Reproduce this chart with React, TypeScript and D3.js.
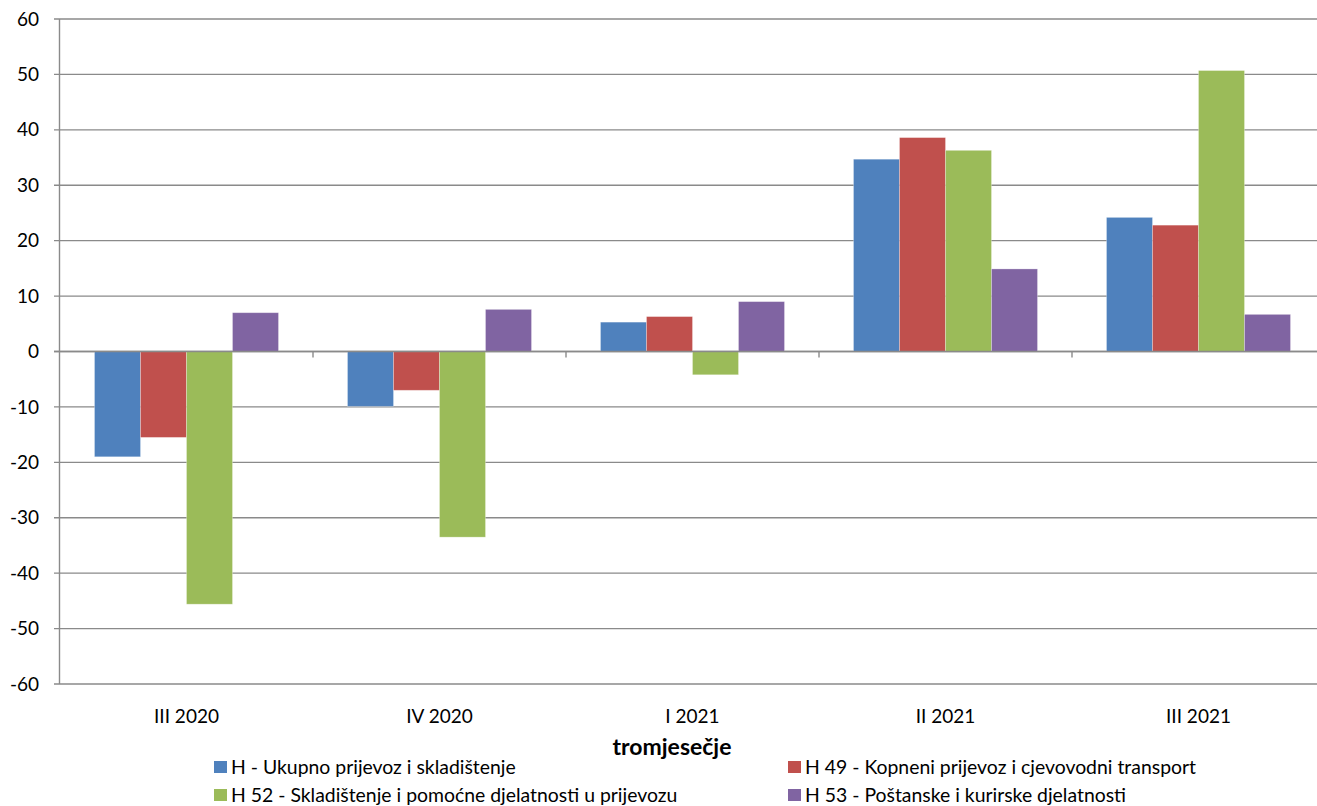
import React, { useEffect, useRef } from 'react'
import * as d3 from 'd3'

const categories = ['III 2020', 'IV 2020', 'I 2021', 'II 2021', 'III 2021']
const seriesNames = [
  'H - Ukupno prijevoz i skladištenje',
  'H 49 - Kopneni prijevoz i cjevovodni transport',
  'H 52 - Skladištenje i pomoćne djelatnosti u prijevozu',
  'H 53 - Poštanske i kurirske djelatnosti',
]
const seriesColors = ['#4F81BD', '#C0504D', '#9BBB59', '#8064A2']
const hUkupno = [-19.0, -9.9, 5.3, 34.7, 24.2]
const h49 = [-15.5, -7.0, 6.3, 38.6, 22.8]
const h52 = [-45.6, -33.5, -4.2, 36.3, 50.7]
const h53 = [7.0, 7.6, 9.0, 14.9, 6.7]
const yTicks = [-60, -50, -40, -30, -20, -10, 0, 10, 20, 30, 40, 50, 60]
const axisTitle = 'tromjesečje'

const W = 1317
const H = 806
const FONT = 'Lato, "Open Sans", sans-serif'

export default function App() {
  const ref = useRef<SVGSVGElement | null>(null)

  useEffect(() => {
    if (!ref.current) return
    const svg = d3.select(ref.current)
    svg.selectAll('*').remove()

    const left = 60
    const right = 1325
    const top = 19
    const bottom = 684
    const values = [hUkupno, h49, h52, h53]

    const x = d3.scaleBand<string>().domain(categories).range([left, right]).padding(0)
    // Excel-like gap width of 150%: 0.75 bar width on each side
    const inner = d3
      .scaleBand<number>()
      .domain(d3.range(values.length))
      .range([0, x.bandwidth()])
      .paddingInner(0)
      .paddingOuter(0.75)
    const y = d3.scaleLinear().domain([-60, 60]).range([bottom, top])

    // gridlines
    svg
      .append('g')
      .selectAll('line')
      .data(yTicks)
      .join('line')
      .attr('x1', left - 6)
      .attr('x2', W)
      .attr('y1', (d) => y(d))
      .attr('y2', (d) => y(d))
      .attr('stroke', '#8a8a8a')
      .attr('stroke-width', 1.4)

    // y axis line
    svg
      .append('line')
      .attr('x1', left - 0.5)
      .attr('x2', left - 0.5)
      .attr('y1', top)
      .attr('y2', bottom)
      .attr('stroke', '#8a8a8a')
      .attr('stroke-width', 1.4)

    // y labels
    svg
      .append('g')
      .selectAll('text')
      .data(yTicks)
      .join('text')
      .attr('x', 39)
      .attr('y', (d) => y(d))
      .attr('dy', '0.35em')
      .attr('text-anchor', 'end')
      .attr('font-family', FONT)
      .attr('font-size', 19)
      .attr('fill', '#000')
      .text((d) => String(d))

    // bars
    values.forEach((vals, si) => {
      svg
        .append('g')
        .selectAll('rect')
        .data(vals)
        .join('rect')
        .attr('x', (_, i) => (x(categories[i]) as number) + (inner(si) as number))
        .attr('width', inner.bandwidth())
        .attr('y', (d) => y(Math.max(0, d)))
        .attr('height', (d) => Math.abs(y(d) - y(0)))
        .attr('fill', seriesColors[si])
        .attr('stroke', 'rgba(255,255,255,0.35)')
        .attr('stroke-width', 0.8)
    })

    // zero axis with category ticks
    svg
      .append('line')
      .attr('x1', left - 6)
      .attr('x2', W)
      .attr('y1', y(0))
      .attr('y2', y(0))
      .attr('stroke', '#8a8a8a')
      .attr('stroke-width', 1.4)
    svg
      .append('g')
      .selectAll('line')
      .data(categories.slice(1))
      .join('line')
      .attr('x1', (d) => x(d) as number)
      .attr('x2', (d) => x(d) as number)
      .attr('y1', y(0))
      .attr('y2', y(0) + 6)
      .attr('stroke', '#8a8a8a')
      .attr('stroke-width', 1.4)

    // category labels
    svg
      .append('g')
      .selectAll('text')
      .data(categories)
      .join('text')
      .attr('x', (d) => (x(d) as number) + x.bandwidth() / 2)
      .attr('y', 716)
      .attr('dy', '0.35em')
      .attr('text-anchor', 'middle')
      .attr('font-family', FONT)
      .attr('font-size', 19)
      .attr('fill', '#000')
      .text((d) => d)

    svg
      .append('text')
      .attr('x', 672)
      .attr('y', 747)
      .attr('dy', '0.35em')
      .attr('text-anchor', 'middle')
      .attr('font-family', FONT)
      .attr('font-size', 23)
      .attr('font-weight', 700)
      .attr('fill', '#000')
      .text(axisTitle)

    // legend
    const legendX = [214, 788]
    const legendY = [767, 795]
    const lg = svg
      .append('g')
      .selectAll('g')
      .data(seriesNames)
      .join('g')
      .attr('transform', (_, i) => `translate(${legendX[i % 2]},${legendY[Math.floor(i / 2)]})`)
    lg.append('rect')
      .attr('x', 0)
      .attr('y', -6)
      .attr('width', 13)
      .attr('height', 12)
      .attr('fill', (_, i) => seriesColors[i])
    lg.append('text')
      .attr('x', 17)
      .attr('y', 0)
      .attr('dy', '0.35em')
      .attr('font-family', FONT)
      .attr('font-size', 19.4)
      .attr('fill', '#000')
      .text((d) => d)
  }, [])

  return (
    <svg
      ref={ref}
      width={W}
      height={H}
      style={{ position: 'absolute', left: 0, top: 0, background: '#fff' }}
    />
  )
}
